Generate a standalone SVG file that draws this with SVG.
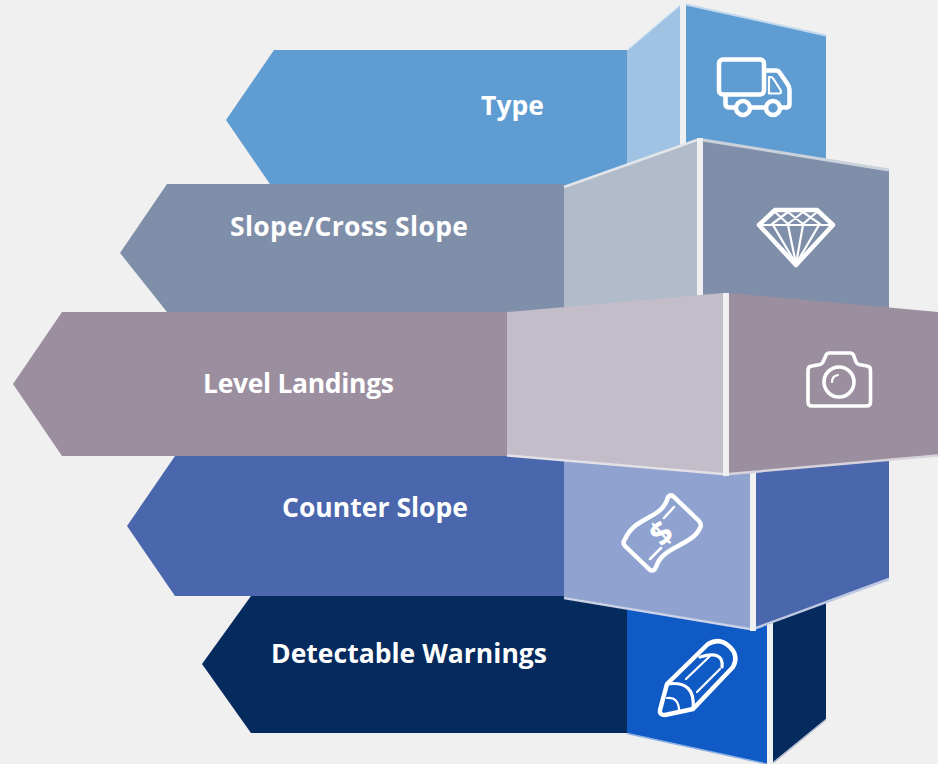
<svg xmlns="http://www.w3.org/2000/svg" width="938" height="764" viewBox="0 0 938 764">
<style>
.t{font-family:"Open Sans","Liberation Sans",sans-serif;font-weight:700;font-size:26.500px;fill:#fff;text-anchor:middle}
.i{fill:none;stroke:#fff;stroke-width:4.500;stroke-linejoin:round;stroke-linecap:round}
.f{fill:none;stroke:#fff;stroke-width:2.200;stroke-linejoin:round;stroke-linecap:round}
.e{fill:none;stroke-width:2.5}
</style>
<rect width="938" height="764" fill="#f0f0f0"/>
<g id="node-type">
<polygon points="274,50 627,50 627,190 274,190 226,120" fill="#5f9cd2"/>
<polygon points="627,50 680,5 680,190 627,190" fill="#a0c3e3"/>
<polyline points="627,50 680,5" class="e" stroke="#dbe8f4" style="stroke-width:1.500"/>
<rect x="680" y="3" width="6" height="167" fill="#f0f0f0"/>
<polygon points="686,4 826,35 826,190 686,190" fill="#5f9cd2"/>
<polyline points="686,4.500 826,35.500" class="e" stroke="#c3d9ee" style="stroke-width:2"/>
<rect class="i" x="719" y="59.500" width="45" height="35" rx="4"/>
<path class="i" d="M765 70.500H776Q778.500 70.500 780 73L787.500 84Q789.500 87 789.500 90V104Q789.500 107.500 786 107.500H781M765 107.500H751M734 107.500H730Q725.500 107.500 725.500 104V95"/>
<circle class="i" cx="743" cy="108" r="7"/><circle class="i" cx="773" cy="108" r="7"/>
<path class="f" d="M769 77H771Q772 77 773.500 79L780.500 90Q782 93.500 779 93.500H769Z"/>
</g>
<g id="node-slope">
<polygon points="167,184 564,184 564,312 167,312 120,253" fill="#7f8fa9"/>
<polygon points="564,187 697,141 697,312 564,312" fill="#b2bbca"/>
<polyline points="564,187 697,140" class="e" stroke="#e2e5ea"/>
<rect x="697" y="138" width="6" height="160" fill="#f0f0f0"/>
<polygon points="703,140 889,170 889,312 703,312" fill="#7f8fa9"/>
<polyline points="703,140 889,170" class="e" stroke="#ccd2dc" style="stroke-width:3"/>
<path class="i" d="M775 210H817L833 225 796 265 759 225Z"/>
<path class="f" d="M760 225H832M775 212 788 224M788 212 772 224M788 212 803 224M803 212 788 224M803 212 820 224M817 212 803 224M773 225 796 264 788 225M796 264 803 225M796 264 819 225"/>
</g>
<g id="node-detectable">
<polygon points="251,596 627,596 627,733 251,733 202,664" fill="#052a5e"/>
<polygon points="627,600 767,625 767,764 627,733" fill="#0f5ac5"/>
<polyline points="627,733.500 767,764" class="e" stroke="#8cb0e2" style="stroke-width:1.500"/>
<rect x="767" y="625" width="6" height="139" fill="#f0f0f0"/>
<polygon points="773,600 826,600 826,719 773,762" fill="#052a5e"/>
<polyline points="773,763 826,719.500" class="e" stroke="#a8b5ca" style="stroke-width:1.500"/>
<path class="i" d="M667 684L708 644Q720 637 730 647Q739 656 733 667L693 709L665 715Q659 715 660 710Z"/>
<path class="f" style="stroke-width:3.200" d="M667 684Q696 680 693 709M700 657Q724 650 722 667"/>
<path class="f" d="M686 679L710 656M697 692L720 669M667 698Q679 697 679 711"/>
</g>
<g id="node-counter">
<polygon points="175,456 564,456 564,596 175,596 127,526" fill="#4a66ac"/>
<polygon points="564,456 750,470 750,628 564,597" fill="#90a2d0"/>
<polyline points="564,598 750,629" class="e" stroke="#ccd3e6"/>
<rect x="750" y="470" width="6" height="161" fill="#f0f0f0"/>
<polygon points="756,460 889,460 889,578 756,627" fill="#4a66ac"/>
<polyline points="756,628 889,579" class="e" stroke="#bdc8e2"/>
<path class="i" d="M668 497Q671 494 674 497L699 521Q702 524 700 528C692 546 662 546 656 567Q654 572 650 570L625 546Q622 543 625 539C636 515 662 520 668 497Z"/>
<path class="f" style="stroke-width:2.500" d="M664 518L674 507M650 559L661 548"/>
<text x="661" y="545" transform="rotate(-42 661 533)" font-family="Open Sans, sans-serif" font-weight="700" font-size="33" fill="#fff" text-anchor="middle">$</text>
</g>
<g id="node-level">
<polygon points="62,312 507,312 507,456 62,456 13,384" fill="#9b8e9f"/>
<polygon points="507,312 723,293 723,473 507,455" fill="#c3bcc9"/>
<polyline points="507,455.500 723,474" class="e" stroke="#e3e0e6"/>
<rect x="723" y="293" width="6" height="183" fill="#f0f0f0"/>
<polygon points="729,293 938,312 938,455 729,473" fill="#9b8e9f"/>
<polyline points="729,474 938,455.500" class="e" stroke="#d8d3da"/>
<path class="i" style="stroke-width:3.600" d="M812 366L820 364.500Q822 364 823 362L826 355Q827 353 829.500 353H850Q852.500 353 853.500 355L856 362Q857 364 859 364.500L867 366Q870.500 366.500 870.500 370V402Q870.500 406 866.500 406H812Q808 406 808 402V370Q808 366.500 812 366Z"/>
<circle class="i" style="stroke-width:3.600" cx="839" cy="382" r="15"/>
<path class="f" d="M832 382Q832 376 838 375"/>
</g>
<text class="t" x="512.500" y="115" textLength="63">Type</text>
<text class="t" x="349" y="236" textLength="238">Slope/Cross Slope</text>
<text class="t" x="298.500" y="393" textLength="191">Level Landings</text>
<text class="t" x="375" y="517" textLength="186">Counter Slope</text>
<text class="t" x="409" y="663" textLength="276">Detectable Warnings</text>
<g id="connectors"/>
</svg>
